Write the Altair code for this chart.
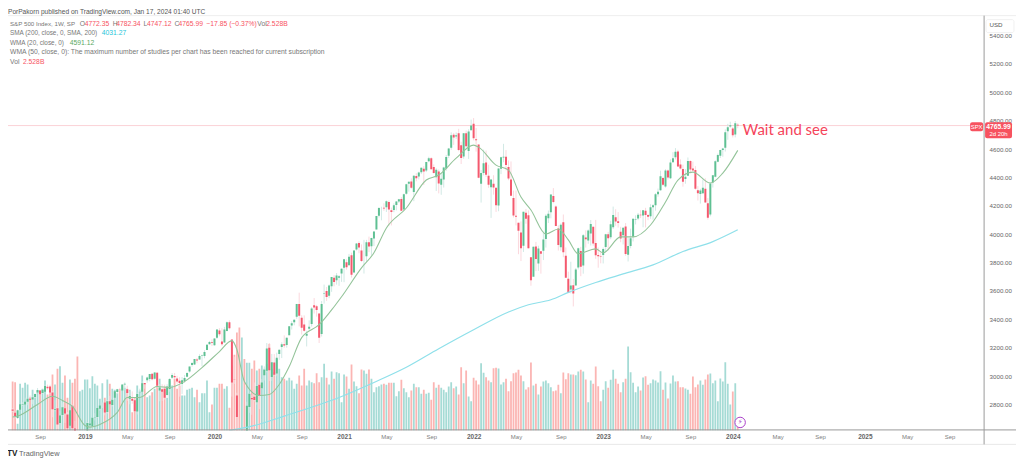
import altair as alt
import pandas as pd

# ---- weekly S&P 500 candles (weeks start 2018-06-18) ----
opens = [
 2765,2742,2705,2763,2798,2800,2819,2841,2835,2853,2884,2898,2881,2890,2925,2926,2885,2763,2773,2670,2726,2773,2730,2650,2790,2630,2590,2400,2498,
 2535,2580,2653,2644,2706,2712,2769,2804,2814,2747,2822,2796,2848,2888,2908,2899,2940,2908,2841,2841,2830,2751,2886,2889,2951,2971,2980,3017,2982,3024,2898,2908,2910,2866,2909,2988,3001,2983,2967,2944,2966,2996,3033,3078,3081,3117,3117,3144,3141,3183,3224,3240,
 3218,3271,3321,3243,3236,3318,3380,3258,2974,2864,2509,2263,2558,2579,2782,2846,2854,2815,2939,2914,3005,3038,3199,2993,3095,3018,3155,3205,3224,3219,3288,3356,3380,3418,3509,3412,3363,3285,3333,3367,3500,3493,3441,3296,3583,3600,3567,3634,3694,3675,3694,3723,
 3764,3803,3781,3851,3731,3892,3939,3885,3842,3845,3943,3916,3969,4034,4130,4179,4186,4191,4228,4169,4170,4206,4230,4248,4174,4285,4355,4372,4297,4410,4407,4437,4461,4450,4514,4535,4474,4402,4442,4348,4385,4463,4553,4610,4701,4689,4712,4628,4548,4711,4587,4733,
 4778,4670,4632,4356,4432,4505,4412,4332,4355,4327,4202,4462,4541,4547,4474,4386,4256,4130,4081,4013,3919,4152,4134,3838,3700,3913,3793,3880,3884,3966,4112,4155,4270,4195,4041,3909,4084,3849,3686,3610,3640,3638,3766,3881,3780,3977,3956,4005,4053,3939,3853,3843,
 3853,3910,3999,3978,4050,4119,4091,4018,3992,4055,3855,3917,3982,4102,4110,4137,4132,4166,4136,4126,4190,4205,4282,4310,4396,4337,4450,4395,4508,4543,4584,4491,4459,4389,4412,4517,4464,4453,4310,4284,4289,4321,4218,4139,4365,4406,4511,4554,4594,4610,4726,4759,
 4745,4703,4772.35]
highs = [
 2774,2758,2764,2804,2816,2848,2841,2863,2855,2877,2916,2900,2906,2941,2940,2939,2894,2830,2778,2756,2815,2776,2747,2760,2800,2685,2601,2520,2538,
 2597,2675,2670,2708,2738,2775,2795,2814,2817,2830,2861,2838,2893,2910,2917,2940,2955,2932,2892,2892,2841,2885,2911,2964,2951,2996,3014,3018,3028,3029,2945,2943,2939,2943,2985,3021,3022,3002,2992,2993,3008,3027,3067,3098,3120,3127,3154,3151,3182,3226,3248,3259,
 3267,3329,3338,3337,3347,3385,3393,3259,3137,2883,2562,2637,2642,2819,2880,2867,2955,2934,2945,2980,3068,3233,3233,3156,3155,3165,3186,3238,3287,3272,3352,3387,3399,3509,3588,3429,3428,3320,3393,3486,3550,3502,3441,3529,3645,3628,3646,3699,3712,3726,3712,3760,
 3826,3823,3861,3870,3887,3937,3950,3928,3960,3960,3983,3975,4020,4129,4191,4194,4218,4238,4238,4188,4218,4234,4249,4262,4286,4356,4372,4394,4416,4430,4441,4470,4480,4510,4546,4542,4492,4465,4457,4429,4475,4559,4608,4718,4714,4717,4743,4652,4713,4731,4740,4808,
 4819,4749,4632,4453,4596,4590,4490,4386,4416,4327,4465,4546,4637,4593,4520,4513,4308,4308,4081,4090,4158,4178,4168,3838,3913,3946,3919,3880,4012,4141,4167,4280,4325,4203,4062,4076,4139,3907,3736,3806,3685,3762,3905,3911,4001,4028,4034,4100,4053,4101,3907,3878,
 3906,4003,4016,4095,4195,4176,4156,4052,4048,4079,3973,4039,4110,4133,4150,4170,4170,4186,4143,4212,4212,4290,4322,4448,4404,4458,4456,4527,4578,4607,4595,4528,4490,4459,4541,4521,4511,4480,4339,4320,4385,4394,4255,4365,4417,4521,4568,4595,4609,4739,4778,4793,
 4755,4798,4782.34]
lows = [
 2746,2699,2698,2759,2789,2796,2795,2833,2802,2847,2884,2864,2874,2886,2903,2874,2710,2750,2628,2603,2722,2670,2631,2649,2621,2583,2408,2346,2443,
 2524,2566,2612,2631,2687,2705,2755,2775,2723,2735,2800,2785,2848,2873,2895,2899,2900,2825,2801,2805,2750,2729,2880,2887,2911,2953,2963,2970,2976,2914,2822,2825,2834,2856,2890,2980,2978,2946,2855,2874,2953,2992,3024,3066,3078,3091,3115,3070,3126,3183,3223,3212,
 3214,3262,3281,3214,3235,3315,3328,2855,2945,2478,2281,2192,2447,2579,2741,2727,2820,2798,2767,2908,2969,3026,2965,2966,3004,2999,3115,3127,3200,3200,3288,3328,3358,3404,3350,3293,3313,3209,3323,3349,3441,3419,3233,3279,3511,3530,3549,3594,3633,3645,3636,3664,
 3662,3750,3780,3694,3725,3885,3866,3805,3723,3805,3874,3853,3917,4034,4118,4098,4165,4157,4057,4062,4155,4168,4220,4165,4165,4279,4300,4321,4233,4373,4386,4424,4347,4438,4508,4457,4427,4305,4288,4278,4329,4447,4537,4595,4630,4672,4585,4495,4532,4600,4531,4733,
 4662,4582,4395,4223,4415,4403,4327,4115,4279,4157,4162,4424,4507,4450,4381,4269,4118,4062,3859,3811,3875,4074,3900,3637,3705,3740,3742,3722,3818,3906,4079,4112,4218,4057,3885,3884,3838,3693,3584,3583,3491,3641,3752,3704,3722,3906,3933,3920,3918,3827,3764,3795,
 3794,3877,3885,3965,4037,4060,4047,3944,3928,3848,3808,3901,3949,4069,4099,4114,4049,4048,4099,4109,4103,4166,4264,4307,4341,4328,4385,4389,4505,4527,4474,4457,4335,4356,4412,4430,4449,4313,4238,4216,4283,4223,4103,4126,4329,4401,4507,4537,4546,4583,4666,4751,
 4682,4683,4747.12]
closes = [
 2755,2718,2759,2801,2802,2819,2840,2833,2850,2874,2902,2872,2904,2930,2914,2885,2767,2768,2658,2723,2781,2736,2632,2760,2633,2600,2416,2485,2532,
 2596,2670,2665,2707,2708,2775,2793,2804,2743,2822,2801,2834,2893,2907,2905,2940,2946,2881,2860,2826,2752,2873,2887,2950,2942,2990,3014,2977,3026,2932,2919,2889,2847,2926,2979,3007,2992,2961,2952,2970,2986,3022,3067,3093,3120,3110,3141,3146,3169,3221,3240,3235,
 3265,3329,3295,3225,3328,3380,3337,2954,2972,2711,2305,2541,2489,2790,2875,2837,2831,2930,2864,2955,3044,3194,3041,3098,3009,3130,3185,3224,3215,3271,3351,3372,3397,3508,3426,3341,3319,3298,3348,3477,3483,3465,3270,3509,3585,3557,3638,3699,3663,3709,3703,3756,
 3824,3768,3841,3714,3886,3934,3906,3811,3842,3943,3913,3974,4019,4128,4185,4180,4181,4233,4174,4156,4204,4230,4247,4166,4281,4352,4370,4327,4412,4395,4436,4468,4442,4509,4535,4458,4432,4455,4357,4391,4471,4544,4605,4697,4682,4698,4594,4538,4712,4620,4725,4766,
 4677,4663,4398,4432,4500,4419,4349,4385,4329,4204,4463,4543,4546,4488,4392,4272,4132,4123,4024,3901,4158,4109,3901,3675,3912,3825,3899,3863,3962,4130,4145,4280,4228,4058,3924,4067,3873,3693,3585,3639,3583,3752,3901,3771,3992,3965,4026,4072,3934,3852,3845,3839,
 3895,3999,3972,4071,4136,4090,4079,3970,4046,3861,3917,3971,4109,4105,4138,4133,4169,4136,4124,4191,4205,4282,4299,4409,4348,4450,4399,4505,4536,4582,4478,4464,4370,4406,4516,4457,4450,4320,4288,4309,4327,4224,4117,4358,4415,4514,4559,4594,4604,4719,4754,4769,
 4697,4783,4765.99]
# weekly volume, billions
volumes = [
 19.6,19.3,2.7,18.7,17.1,19.1,18.4,13.3,16.3,13.3,16.0,16.0,16.7,20.0,14.4,17.3,22.4,18.4,24.7,25.7,19.1,22.0,13.1,20.4,19.1,20.7,29.7,15.7,16.3,
 20.4,20.4,16.9,21.7,18.7,18.0,12.7,18.9,13.1,20.4,18.7,16.7,16.3,14.9,16.3,18.0,17.1,16.7,16.3,7.3,13.3,18.0,16.0,22.0,18.7,13.3,14.0,15.3,16.7,18.0,20.7,16.3,17.6,13.1,20.0,18.0,20.7,16.7,18.0,14.0,14.0,16.3,16.7,17.1,13.3,16.3,11.3,14.9,14.9,20.0,7.3,10.4,
 17.1,17.1,18.7,18.7,16.7,17.7,9.1,26.0,30.4,39.3,41.3,37.3,28.7,27.1,27.1,24.7,28.0,24.0,24.7,26.0,24.7,26.7,34.7,24.7,23.3,28.7,24.7,21.3,20.7,20.0,21.1,20.0,16.7,18.7,22.0,18.0,24.7,18.0,20.0,19.3,18.9,22.9,19.3,21.3,26.7,21.1,18.4,23.6,20.7,23.3,22.9,
 11.3,22.4,21.6,16.7,26.4,19.6,17.7,14.9,24.4,24.0,22.7,24.4,20.7,15.3,17.3,17.7,18.4,18.7,18.3,19.1,19.1,19.1,13.7,15.7,20.3,16.9,15.3,13.3,16.0,18.7,17.3,17.3,14.7,16.3,14.7,15.1,12.3,19.3,17.1,18.3,17.1,16.3,15.3,17.6,19.3,16.9,17.6,14.4,
 25.3,18.9,24.0,13.6,11.7,21.1,20.0,18.4,26.9,23.1,21.3,20.0,19.3,24.9,25.1,24.8,18.4,19.3,20.7,15.7,19.7,22.9,23.2,24.3,22.0,19.7,16.4,17.3,27.2,18.0,18.7,14.4,17.6,19.6,20.0,18.9,17.3,15.7,16.0,18.3,14.9,23.2,20.5,22.9,22.4,22.4,22.1,23.6,24.3,23.6,20.4,11.3,
 20.0,18.7,25.6,17.7,11.7,16.3,19.7,17.1,20.3,24.3,20.7,18.7,15.3,19.3,20.7,33.7,23.3,19.1,15.3,17.6,16.0,21.2,21.7,18.3,18.9,20.4,20.0,19.2,23.7,16.3,19.2,12.8,18.8,22.0,19.6,19.7,17.3,17.3,16.8,16.3,14.7,21.6,17.3,18.4,20.0,18.3,20.4,22.4,22.8,18.9,20.0,11.7,
 20.8,19.6,27.3,18.7,10.4,15.6,18.9,2.528]
# moving-average lines: (week number, level)
wma_week = [0,2,10,16,20,24,29,31,35,42,46,51,58,63,69,76,83,88,90,93,99,103,107,111,116,123,129,132,140,145,150,158,166,171,178,185,187,194,199,204,208,214,219,223,227,234,237,244,249,256,262,267,273,280,285,291]
wma_val = [2711,2718,2800,2858,2828,2786,2652,2640,2659,2744,2849,2849,2927,2920,2962,3060,3173,3250,3187,2962,2863,2870,2941,3067,3271,3362,3489,3559,3763,3869,4044,4185,4382,4417,4536,4628,4614,4487,4452,4262,4171,4002,4037,3960,3862,3897,3869,3981,3981,4065,4227,4382,4438,4361,4431,4591.12]
sma_week = [87,96,109,132,145,158,171,185,199,207,216,223,234,245,257,269,281,291]
sma_val = [2617,2647,2718,2856,2955,3062,3193,3327,3452,3503,3538,3590,3660,3720,3784,3878,3948,4031.27]
price_ticks = list(range(2800, 5401, 200))
time_ticks = ["2018-09-03","2019-01-07","2019-05-06","2019-09-02","2020-01-06","2020-05-04","2020-09-07","2021-01-04","2021-05-03","2021-09-06","2022-01-03","2022-05-02","2022-09-05","2023-01-02","2023-05-01","2023-09-04","2024-01-01","2024-05-06","2024-09-02","2025-01-06","2025-05-05","2025-09-01"]

assert len(opens) == len(highs) == len(lows) == len(closes) == len(volumes) == 292

dates = pd.date_range("2018-06-18", periods=292, freq="7D").strftime("%Y-%m-%d")
bars = pd.DataFrame({"date": dates, "open": opens, "high": highs, "low": lows, "close": closes, "vol": volumes})
wma = pd.DataFrame({"date": [dates[i] for i in wma_week], "v": wma_val})
sma = pd.DataFrame({"date": [dates[i] for i in sma_week], "v": sma_val})

FONT = "Liberation Sans"
UP, DOWN = "#5fc093", "#f4596e"
UPW, DOWNW = "#cbe6e2", "#fbd3d9"
VUP, VDOWN = "#a5dbd5", "#fbb5b3"
RED = "#f7525f"

xs = alt.Scale(type="utc", domain=["2018-06-19", "2025-11-23"])
ps = alt.Scale(domain=[2617, 5590], nice=False, zero=False)
vs = alt.Scale(domain=[0, 169.2], nice=False, zero=False)
cond = "datum.close >= datum.open"

x_axis = alt.Axis(
    values=time_ticks, title=None, domain=False, ticks=False, grid=False, labelPadding=3,
    labelFont=FONT, labelColor=alt.expr("utcmonth(datum.value)==0 ? '#666666' : '#808080'"),
    labelFontSize=alt.expr("utcmonth(datum.value)==0 ? 6.5 : 6"),
    labelFontWeight=alt.expr("utcmonth(datum.value)==0 ? 'bold' : 'normal'"),
    labelExpr="utcmonth(datum.value)==0 ? utcFormat(datum.value,'%Y') : utcFormat(datum.value,'%b')",
    labelOverlap=False, labelFlush=False, orient="bottom")
X = alt.X("date:T", scale=xs, axis=x_axis)
y_axis = alt.Axis(
    values=price_ticks, title=None, domain=False, ticks=False, grid=False, orient="right",
    labelPadding=5, labelFont=FONT, labelFontSize=6.2, labelColor="#666666", format=".2f", labelOverlap=False)

layers = []
layers.append(alt.Chart(bars).mark_bar(size=1.8, clip=True).encode(
    x=X,
    y=alt.Y("vol:Q", scale=vs, axis=None),
    color=alt.condition(cond, alt.value(VUP), alt.value(VDOWN))))
layers.append(alt.Chart(pd.DataFrame({"p": [closes[-1]]})).mark_rule(color="#fbd3d7", strokeWidth=1).encode(
    y=alt.Y("p:Q", scale=ps, axis=None)))
layers.append(alt.Chart(bars).mark_rule(strokeWidth=0.9, clip=True).encode(
    x=X, y=alt.Y("low:Q", scale=ps, axis=y_axis), y2="high:Q",
    color=alt.condition(cond, alt.value(UPW), alt.value(DOWNW))))
layers.append(alt.Chart(bars).mark_bar(size=2, clip=True).encode(
    x=X, y=alt.Y("open:Q", scale=ps, axis=None), y2="close:Q",
    color=alt.condition(cond, alt.value(UP), alt.value(DOWN))))
layers.append(alt.Chart(sma).mark_line(color="#8fe0ea", strokeWidth=1.2, clip=True, interpolate="monotone").encode(
    x=X, y=alt.Y("v:Q", scale=ps, axis=None)))
layers.append(alt.Chart(wma).mark_line(color="#94c49a", strokeWidth=1.1, clip=True, interpolate="monotone").encode(
    x=X, y=alt.Y("v:Q", scale=ps, axis=None)))

one = pd.DataFrame({"a": [0]})
OX, OY = 8, 8

def line(x1, y1, x2, y2, color, w=1):
    if x1 == x2:
        e = dict(x=alt.value(x1 - OX), y=alt.value(y1 - OY), y2=alt.value(y2 - OY))
    else:
        e = dict(x=alt.value(x1 - OX), x2=alt.value(x2 - OX), y=alt.value(y1 - OY))
    return alt.Chart(one).mark_rule(color=color, strokeWidth=w).encode(**e)

def box(x1, y1, x2, y2, color, stroke=None):
    opts = dict(color=color, cornerRadius=2)
    if stroke:
        opts["stroke"] = stroke
    return alt.Chart(one).mark_rect(**opts).encode(
        x=alt.value(x1 - OX), x2=alt.value(x2 - OX), y=alt.value(y1 - OY), y2=alt.value(y2 - OY))

def txt(s, x, y, color="#777777", size=6.8, weight="normal", align="left", font=FONT):
    return alt.Chart(one).mark_text(text=s, align=align, baseline="middle", color=color, fontSize=size,
                                    fontWeight=weight, font=font).encode(
        x=alt.value(x - OX), y=alt.value(y - OY))

layers += [
    line(8, 15, 1019, 15, "#eeeeee"),
    line(8, 445, 1019, 445, "#e8e8e8"),
    line(8, 430.5, 1019, 430.5, "#9a9a9a"),
    line(987, 15, 987, 445, "#9a9a9a"),
]
layers += [
    txt("PorPakorn published on TradingView.com, Jan 17, 2024 01:40 UTC", 8, 11, "#555555", 6.6),
    txt("S&P 500 Index, 1W, SP", 10, 23, size=6.2),
    txt("O", 80, 23), txt("4772.35", 85, 23, RED),
    txt("H", 113, 23), txt("4782.34", 116.5, 23, RED),
    txt("L", 144, 23), txt("4747.12", 147.5, 23, RED),
    txt("C", 175, 23), txt("4765.99", 179, 23, RED),
    txt("\u221217.85 (\u22120.37%)", 207, 23, RED),
    txt("Vol", 258, 23), txt("2.528B", 267, 23, RED),
    txt("SMA (200, close, 0, SMA, 200)", 10, 32.6, size=6.4), txt("4031.27", 102, 32.6, "#26c6da"),
    txt("WMA (20, close, 0)", 10, 42, size=6.4), txt("4591.12", 70, 42, "#5aa85f"),
    txt("WMA (50, close, 0): The maximum number of studies per chart has been reached for current subscription", 10, 51.7),
    txt("Vol", 10, 61), txt("2.528B", 23, 61, RED),
    txt("Wait and see", 745, 130, "#f5435a", 15, font="Lato"),
    box(973, 122, 986, 131, RED), txt("SPX", 979.5, 126.5, "#ffffff", 6, align="center"),
    box(988, 122, 1015, 138, RED),
    txt("4765.99", 1001.5, 126.5, "#ffffff", 6.8, "bold", "center"),
    txt("2d 20h", 1001.5, 133.5, "#ffffff", 6, align="center"),
    box(989, 19, 1017, 32, "#ffffff", "#f0f0f0"),
    txt("USD", 999, 24.5, "#555555", 6.2, align="center"),
    txt("TV", 7, 455, "#222222", 8.2, "bold"),
    txt("TradingView", 19, 455, "#666666", 7.4),
    alt.Chart(one).mark_point(shape="circle", size=110, filled=True, fill="#ffffff", stroke="#a93fc9", strokeWidth=1, opacity=1).encode(
        x=alt.value(742.3 - OX), y=alt.value(423 - OY)),
    txt("\u26a1", 742.3, 423, "#a93fc9", 7, align="center", font="DejaVu Sans"),
]

chart = alt.layer(*layers).resolve_scale(y="independent").properties(
    width=979, height=423,
    autosize=alt.AutoSizeParams(type="none"),
    padding={"left": 0, "top": 0, "right": 32, "bottom": 29},
    background="#ffffff",
).configure_view(stroke=None)

chart.save("out.html", embed_options={"renderer": "svg", "actions": False})
